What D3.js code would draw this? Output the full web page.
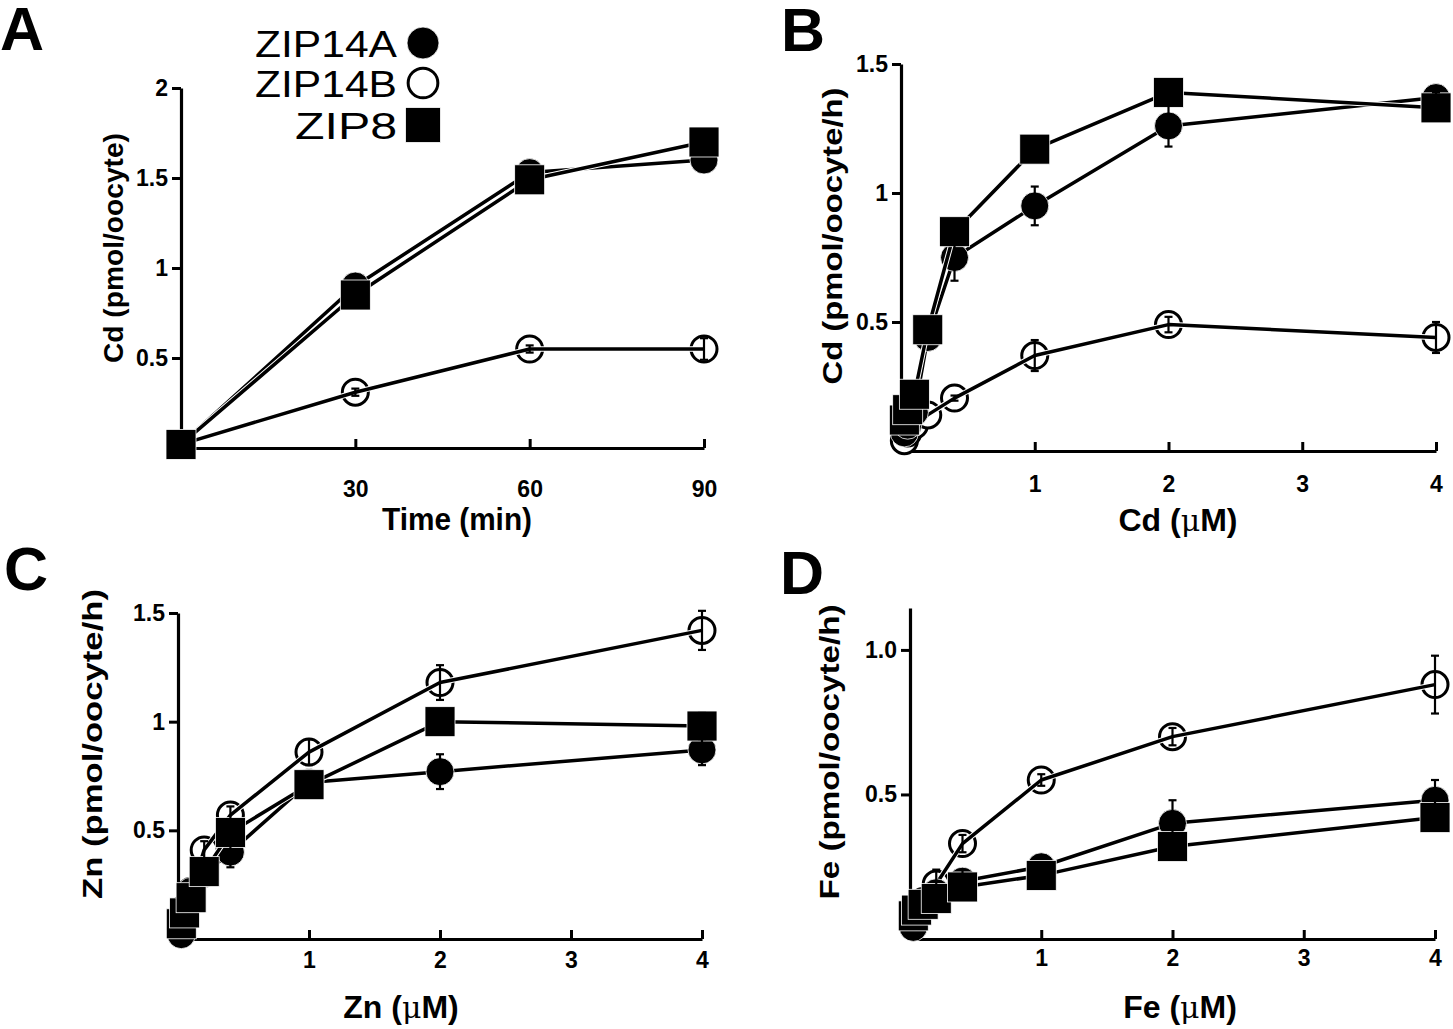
<!DOCTYPE html>
<html><head><meta charset="utf-8">
<script src="https://cdn.jsdelivr.net/npm/d3@7"></script>
<style>
body{margin:0;background:#fff}
text{font-family:"Liberation Sans",Arial,Helvetica,sans-serif;fill:#000}
</style>
</head><body>
<svg id="chart" width="1453" height="1029"></svg>
<script>
// ---------------- DATA ----------------
const seriesNames = ["ZIP14A", "ZIP14B", "ZIP8"];
const seriesShapes = ["filled", "open", "square"];

// Panel A: time course (min)
const timeA = [0, 30, 60, 90];
const a_zip14a = [0.02, 0.90, 1.53, 1.60];
const a_zip14b = [0.02, 0.31, 0.55, 0.55];
const a_zip8   = [0.02, 0.85, 1.49, 1.70];
const a_err14a = [0, 0, 0, 0];
const a_err14b = [0.02, 0.02, 0.02, 0.06];
const a_err8   = [0, 0, 0, 0];

// Concentrations (µM) for panels B, C, D
const conc = [0.025, 0.05, 0.1, 0.2, 0.4, 1, 2, 4];

// Panel B: Cd uptake
const b_zip14a = [0.07, 0.10, 0.15, 0.44, 0.75, 0.95, 1.26, 1.37];
const b_zip14b = [0.04, 0.07, 0.10, 0.14, 0.205, 0.37, 0.49, 0.44];
const b_zip8   = [0.12, 0.16, 0.22, 0.47, 0.85, 1.17, 1.39, 1.33];
const b_err14a = [0, 0, 0, 0.02, 0.09, 0.075, 0.08, 0.02];
const b_err14b = [0, 0, 0, 0, 0.01, 0.06, 0.03, 0.06];
const b_err8   = [0, 0, 0, 0, 0, 0, 0, 0];

// Panel C: Zn uptake
const c_zip14a = [0.02, 0.12, 0.22, 0.30, 0.40, 0.72, 0.77, 0.87];
const c_zip14b = [0.05, 0.14, 0.22, 0.41, 0.57, 0.86, 1.18, 1.42];
const c_zip8   = [0.07, 0.12, 0.19, 0.31, 0.49, 0.71, 1.00, 0.98];
const c_err14a = [0, 0, 0, 0, 0.07, 0, 0.08, 0.07];
const c_err14b = [0, 0, 0, 0.04, 0.04, 0.06, 0.08, 0.09];
const c_err8   = [0, 0, 0, 0, 0, 0, 0, 0.06];

// Panel D: Fe uptake
const d_zip14a = [0.04, 0.08, 0.11, 0.16, 0.20, 0.25, 0.40, 0.48];
const d_zip14b = [0.07, 0.10, 0.13, 0.19, 0.33, 0.55, 0.70, 0.88];
const d_zip8   = [0.08, 0.10, 0.12, 0.14, 0.18, 0.22, 0.32, 0.42];
const d_err14a = [0, 0, 0, 0, 0.04, 0, 0.08, 0.07];
const d_err14b = [0, 0, 0, 0.05, 0.03, 0.02, 0.03, 0.10];
const d_err8   = [0, 0, 0, 0, 0, 0, 0, 0];

// Tick values / labels
const aXTicks = [30, 60, 90];
const aYTicks = [0.5, 1, 1.5, 2];
const concTicks = [1, 2, 3, 4];
const bYTicks = [0.5, 1, 1.5];
const cYTicks = [0.5, 1, 1.5];
const dYTicks = [0.5, 1.0];

// ---------------- DRAWING ----------------
const svg = d3.select("#chart");

function makeSeries(x, ys, errs) {
  return ys.map((v, i) => ({
    name: seriesNames[i], shape: seriesShapes[i],
    pts: x.map((xx, j) => ({x: xx, y: v[j], e: errs[i][j]}))
  }));
}

const panels = [
  {letter: "A", lx: 0, ly: 50,
   xDom: [0, 90], xRange: [181, 704], yDom: [0, 2], yRange: [448, 88],
   xTicks: aXTicks, yTicks: aYTicks, yFmt: d => String(d), labelPad: 33,
   xTitle: ["Time (min)"], xTitleLen: 150, xTitlePos: [457, 530],
   yTitle: "Cd (pmol/oocyte)", yTitleLen: 230, yTitlePos: [113, 248],
   series: makeSeries(timeA, [a_zip14a, a_zip14b, a_zip8], [a_err14a, a_err14b, a_err8])},
  {letter: "B", lx: 781, ly: 51,
   xDom: [0, 4], xRange: [901, 1436], yDom: [0, 1.5], yRange: [451, 64],
   xTicks: concTicks, yTicks: bYTicks, yFmt: d => String(d), labelPad: 25,
   xTitle: ["Cd (", "\u03bc", "M)"], xTitleLen: 0, xTitlePos: [1178, 531],
   yTitle: "Cd (pmol/oocyte/h)", yTitleLen: 297, yTitlePos: [832, 236],
   series: makeSeries(conc, [b_zip14a, b_zip14b, b_zip8], [b_err14a, b_err14b, b_err8])},
  {letter: "C", lx: 4, ly: 590,
   xDom: [0, 4], xRange: [178, 702], yDom: [0, 1.5], yRange: [939, 613],
   xTicks: concTicks, yTicks: cYTicks, yFmt: d => String(d), labelPad: 13,
   xTitle: ["Zn (", "\u03bc", "M)"], xTitleLen: 0, xTitlePos: [401, 1018],
   yTitle: "Zn (pmol/oocyte/h)", yTitleLen: 310, yTitlePos: [92, 744],
   series: makeSeries(conc, [c_zip14a, c_zip14b, c_zip8], [c_err14a, c_err14b, c_err8])},
  {letter: "D", lx: 780, ly: 594,
   xDom: [0, 4], xRange: [910, 1435], yDom: [0, 1.145], yRange: [939, 608],
   xTicks: concTicks, yTicks: dYTicks, yFmt: d3.format(".1f"), labelPad: 11,
   xTitle: ["Fe (", "\u03bc", "M)"], xTitleLen: 0, xTitlePos: [1180, 1018],
   yTitle: "Fe (pmol/oocyte/h)", yTitleLen: 295, yTitlePos: [829, 752],
   series: makeSeries(conc, [d_zip14a, d_zip14b, d_zip8], [d_err14a, d_err14b, d_err8])}
];

const R_FILLED = 14, R_OPEN = 13, SQ = 30;

function drawMarker(g, shape, cx, cy, scale) {
  const s = scale || 1;
  if (shape === "filled") {
    g.append("circle").attr("cx", cx).attr("cy", cy).attr("r", R_FILLED * s)
      .attr("fill", "#000").attr("stroke", "#fff").attr("stroke-width", 0.8);
  } else if (shape === "open") {
    g.append("circle").attr("cx", cx).attr("cy", cy).attr("r", R_OPEN * s)
      .attr("fill", "#fff").attr("stroke", "#000").attr("stroke-width", 3);
  } else {
    const h = SQ * s;
    g.append("rect").attr("x", cx - h / 2).attr("y", cy - h / 2)
      .attr("width", h).attr("height", h)
      .attr("fill", "#000").attr("stroke", "#fff").attr("stroke-width", 0.8);
  }
}

panels.forEach(p => {
  const g = svg.append("g");
  const x = d3.scaleLinear().domain(p.xDom).range(p.xRange);
  const y = d3.scaleLinear().domain(p.yDom).range(p.yRange);

  // panel letter
  g.append("text").attr("x", p.lx).attr("y", p.ly)
    .attr("font-size", 61).attr("font-weight", "bold").text(p.letter);

  // axes
  const yAxis = d3.axisLeft(y).tickValues(p.yTicks).tickFormat(p.yFmt)
    .tickSizeInner(9).tickSizeOuter(0).tickPadding(4);
  const gy = g.append("g").attr("transform", `translate(${p.xRange[0]},0)`).call(yAxis);
  const xAxis = d3.axisBottom(x).tickValues(p.xTicks).tickFormat(d => String(d))
    .tickSizeInner(-9).tickSizeOuter(0).tickPadding(p.labelPad);
  const gx = g.append("g").attr("transform", `translate(0,${p.yRange[0]})`).call(xAxis);
  [gx, gy].forEach(ax => {
    ax.select(".domain").attr("stroke", "#000").attr("stroke-width", 3.2);
    ax.selectAll(".tick line").attr("stroke", "#000").attr("stroke-width", 3);
    ax.selectAll(".tick text").attr("font-size", 23).attr("font-weight", "bold")
      .attr("font-family", '"Liberation Sans",Arial,sans-serif').attr("fill", "#000");
  });

  // axis titles
  const xt = g.append("text").attr("x", p.xTitlePos[0]).attr("y", p.xTitlePos[1])
    .attr("text-anchor", "middle").attr("font-size", 32).attr("font-weight", "bold");
  if (p.xTitleLen) xt.attr("textLength", p.xTitleLen).attr("lengthAdjust", "spacingAndGlyphs");
  p.xTitle.forEach(s => {
    const ts = xt.append("tspan").text(s);
    if (s === "\u03bc") ts.attr("font-weight", "normal").attr("font-family", '"DejaVu Serif",serif').attr("font-size", 30);
  });
  g.append("text")
    .attr("transform", `translate(${p.yTitlePos[0]},${p.yTitlePos[1]}) rotate(-90)`)
    .attr("text-anchor", "middle").attr("dominant-baseline", "central")
    .attr("font-size", 28).attr("font-weight", "bold")
    .attr("textLength", p.yTitleLen).attr("lengthAdjust", "spacingAndGlyphs")
    .text(p.yTitle);

  const line = d3.line().x(d => x(d.x)).y(d => y(d.y));
  function drawLine(s) {
    g.append("path").datum(s.pts).attr("d", line)
      .attr("fill", "none").attr("stroke", "#fff").attr("stroke-width", 5.5)
      .attr("stroke-linejoin", "round");
    g.append("path").datum(s.pts).attr("d", line)
      .attr("fill", "none").attr("stroke", "#000").attr("stroke-width", 3.5)
      .attr("stroke-linejoin", "round");
  }
  function drawMarks(s) {
    s.pts.forEach(d => drawMarker(g, s.shape, x(d.x), y(d.y)));
  }
  // draw order: open series (markers then its line), then filled series (line then markers)
  const open = p.series.filter(s => s.shape === "open");
  const solid = p.series.filter(s => s.shape !== "open");
  open.forEach(s => { drawMarks(s); drawLine(s); });
  solid.forEach(s => { drawLine(s); drawMarks(s); });

  // error bars
  p.series.forEach(s => {
    s.pts.filter(d => d.e > 0).forEach(d => {
      const cx = x(d.x), y1 = y(d.y - d.e), y2 = y(d.y + d.e);
      g.append("line").attr("x1", cx).attr("x2", cx).attr("y1", y1).attr("y2", y2)
        .attr("stroke", "#000").attr("stroke-width", 2.2);
      [y1, y2].forEach(yy => g.append("line").attr("x1", cx - 4).attr("x2", cx + 4)
        .attr("y1", yy).attr("y2", yy).attr("stroke", "#000").attr("stroke-width", 2.2));
    });
  });
});

// legend (panel A)
const leg = svg.append("g");
const legY = [57, 97, 139];
const legMarkY = [43, 83, 125];
const legLen = [142, 142, 102];
seriesNames.forEach((n, i) => {
  leg.append("text").attr("x", 397).attr("y", legY[i]).attr("text-anchor", "end")
    .attr("font-size", 37).attr("textLength", legLen[i]).attr("lengthAdjust", "spacingAndGlyphs")
    .text(n);
  const sc = seriesShapes[i] === "square" ? 35 / SQ : 16 / R_FILLED;
  drawMarker(leg, seriesShapes[i], 423, legMarkY[i], sc);
});
</script>
</body></html>
